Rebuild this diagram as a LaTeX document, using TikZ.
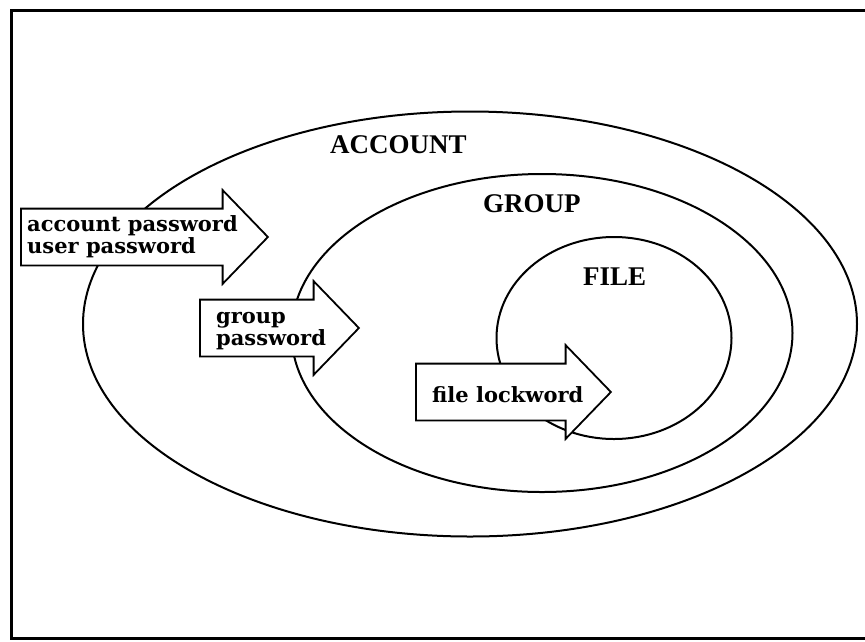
\documentclass[tikz,border=0pt]{standalone}
\usepackage{fontspec}
\setmainfont{Liberation Serif}
\newfontfamily\keyfont{DejaVu Serif}
\usetikzlibrary{shapes.geometric,shapes.arrows,positioning}
\tikzset
{
    region/.style      = {ellipse, draw=black, line width=2pt, inner sep=0pt},
    regionlabel/.style = {font=\fontsize{27}{31}\selectfont\bfseries, inner sep=0pt, anchor=base west},
    keyarrow/.style    = {single arrow, draw=black, fill=white, line width=1.8pt, inner sep=0pt,
                          text height=27.5pt, text depth=27.5pt, anchor=tail,
                          single arrow head extend=18.5pt, single arrow tip angle=92},
    keylabel/.style    = {font=\keyfont\fontsize{21}{22}\selectfont\bfseries, align=left, inner sep=0pt, anchor=west},
    frame/.style       = {line width=3pt}
}

\begin{document}
\begin{tikzpicture}[x=1pt, y=-1pt]
   \useasboundingbox (0,0) rectangle (865,641);
   \draw[frame] (11,10) rectangle (880,638);

   % nested regions
   \node (account) [region, minimum width=774pt, minimum height=425pt] at (470,324) {};
   \node (group)   [region, minimum width=501pt, minimum height=318pt] at (542,333) {};
   \node (file)    [region, minimum width=235pt, minimum height=202pt] at (614,338) {};

   \node (accountlbl) [regionlabel] at (330,153) {ACCOUNT};
   \node (grouplbl)   [regionlabel] at (483,212) {GROUP};
   \node (filelbl)    [regionlabel] at (583,285) {FILE};

   % keys
   \node (acctarrow)  [keyarrow, minimum height=247pt] at (20,237)  {};
   \node (grouparrow) [keyarrow, minimum height=159pt] at (199,328) {};
   \node (filearrow)  [keyarrow, minimum height=195pt] at (415,392) {};

   \node (acctkey)  [keylabel] at (27,237)  {account password\\user password};
   \node (groupkey) [keylabel] at (216,331) {group\\password};
   \node (filekey)  [keylabel] at (432,395) {file lockword};
\end{tikzpicture}
\end{document}
